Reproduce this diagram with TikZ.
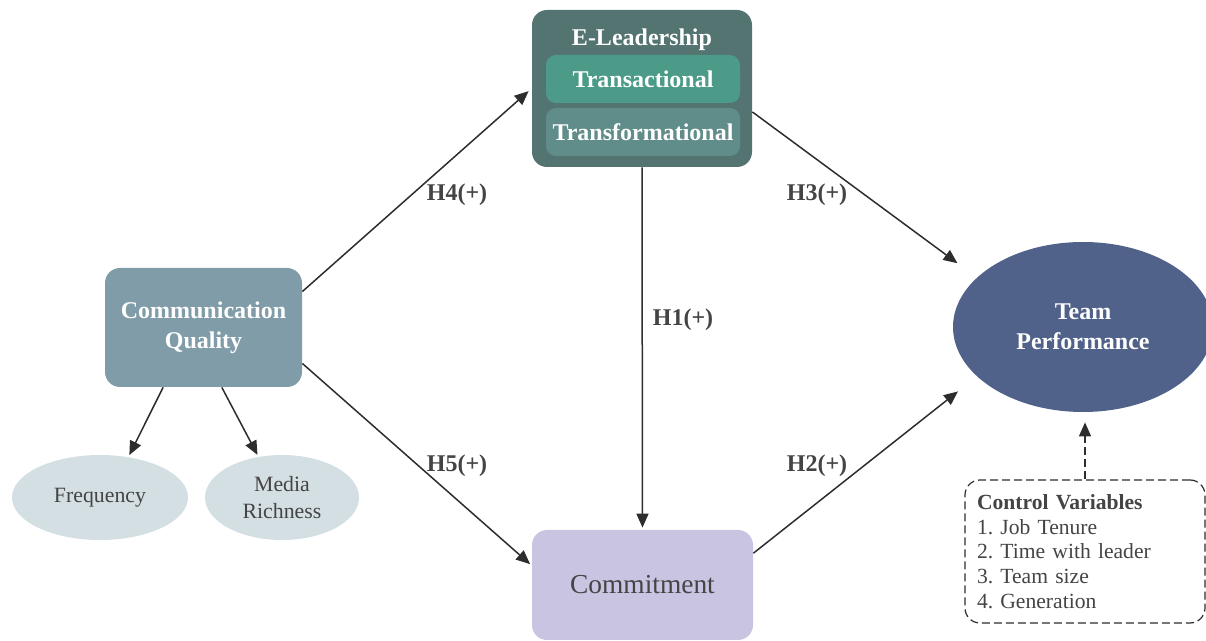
\documentclass[tikz,border=0pt]{standalone}
\usepackage{fontspec}
\setmainfont{Liberation Serif}
\usetikzlibrary{arrows.meta,shapes.geometric}
\definecolor{leadfill}{RGB}{83,116,113}
\definecolor{tactfill}{RGB}{76,155,136}
\definecolor{tformfill}{RGB}{96,141,138}
\definecolor{cqfill}{RGB}{128,156,168}
\definecolor{dimfill}{RGB}{212,223,228}
\definecolor{tpfill}{RGB}{80,98,138}
\definecolor{comfill}{RGB}{200,196,226}
\definecolor{inkgray}{RGB}{68,68,68}
\definecolor{linegray}{RGB}{45,45,45}
\frenchspacing
\begin{document}
\begin{tikzpicture}[x=0.5pt,y=-0.5pt,
    box/.style={rounded corners=7.5pt,inner sep=0pt,text=white,align=center,
      font=\fontsize{12}{15}\selectfont\bfseries},
    dim/.style={ellipse,fill=dimfill,inner sep=0pt,text=inkgray,align=center,
      minimum height=42.5pt,font=\fontsize{10.9}{13.5}\selectfont},
    link/.style={draw=linegray,line width=0.75pt,-{Triangle[length=7pt,width=6pt]}},
    hyp/.style={text=inkgray,font=\fontsize{12}{14}\selectfont\bfseries}]
  \useasboundingbox (0,0) rectangle (1206,641);
  \node[box,fill=leadfill,minimum width=110pt,minimum height=78.5pt] (lead) at (642,88.5) {};
  \node[box] (leadtitle) at (642,40) {E-Leadership};
  \node[box,fill=tactfill,rounded corners=5pt,minimum width=97pt,minimum height=24pt] (tact) at (643,79) {Transactional};
  \node[box,fill=tformfill,rounded corners=5pt,minimum width=97pt,minimum height=24pt] (tform) at (643,132) {Transformational};
  \node[box,fill=cqfill,minimum width=98.5pt,minimum height=59.5pt] (cq) at (203.5,327.5) {Communication\\Quality};
  \node[dim,minimum width=88pt] (freq) at (100,497.5) {Frequency};
  \node[dim,minimum width=77pt] (media) at (282,497.5) {Media\\Richness};
  \node[box,fill=comfill,text=inkgray,font=\fontsize{13.7}{16}\selectfont,minimum width=110.5pt,minimum height=55pt] (com) at (642.5,585) {Commitment};
  \node[box,ellipse,fill=tpfill,minimum width=130pt,minimum height=85pt] (tp) at (1083,327) {Team\\Performance};
  \node[draw=linegray,dash pattern=on 4pt off 2pt,rounded corners=7.5pt,line width=0.6pt,
    minimum width=120pt,minimum height=71.5pt,text width=108pt,inner xsep=6pt,align=left,
    text=inkgray,font=\fontsize{10.8}{12.3}\selectfont] (ctrl) at (1085,551.5)
    {\textbf{Control Variables}\\1. Job Tenure\\2. Time with leader\\3. Team size\\4. Generation};
  \node[hyp] (h4) at (457,195) {H4(+)};
  \node[hyp] (h3) at (817,195) {H3(+)};
  \node[hyp] (h1) at (683,320) {H1(+)};
  \node[hyp] (h5) at (457,466) {H5(+)};
  \node[hyp] (h2) at (817,466) {H2(+)};
  \draw[link,shorten >=2pt] (cq.20) -- (lead.west);
  \draw[link,shorten >=1pt] (cq.-20) -- (com.170);
  \draw[link,shorten >=1pt] (lead.south) -- (com.north);
  \draw[link,shorten >=12pt] (lead.-12) -- (tp.155);
  \draw[link,shorten >=12pt] (com.16) -- (tp.205);
  \draw[link,shorten >=1pt] (cq.-124) -- (freq.55);
  \draw[link,shorten >=1pt] (cq.-73) -- (media.120);
  \draw[link,dash pattern=on 4pt off 2pt,shorten >=5pt] (ctrl.north) -- (ctrl.north |- tp.south);
\end{tikzpicture}
\end{document}
